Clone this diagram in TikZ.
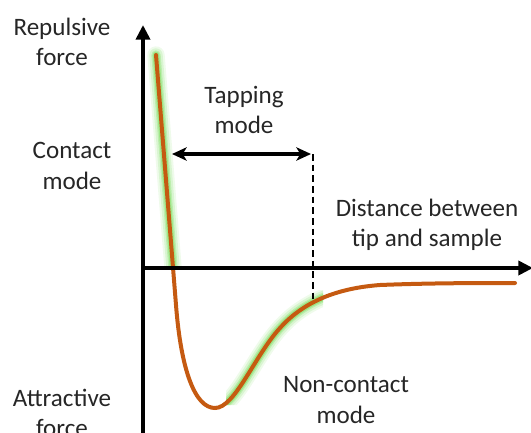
\documentclass[tikz,border=0pt]{standalone}
\usepackage{fontspec}
\setmainfont{Carlito}
\usetikzlibrary{arrows.meta}
\definecolor{curvecol}{RGB}{197,90,17}
\definecolor{glowcol}{RGB}{120,220,90}
\definecolor{txt}{RGB}{38,38,38}
\tikzset{
  lbl/.style={align=center, text=txt, font=\fontsize{18.8pt}{22.8pt}\selectfont, inner sep=0pt},
  axis/.style={line width=3.2pt, -{Triangle[length=11pt,width=10.5pt]}},
  tap/.style={line width=2.6pt, {Stealth[length=11pt,width=10pt,inset=3pt]}-{Stealth[length=11pt,width=10pt,inset=3pt]}},
  guide/.style={line width=1pt, dash pattern=on 5pt off 3pt},
  curvestyle/.style={line width=3pt, curvecol, line cap=round},
  glow/.style={glowcol, line cap=round}
}
\newcommand{\ljcurve}{(156,55) -- (176,305) .. controls (181,370) and (195,408) .. (215,408) .. controls (235,408) and (255,355) .. (280,328) .. controls (305,300) and (340,288) .. (380,285) .. controls (430,283) and (480,283) .. (515,283)}
\begin{document}
\begin{tikzpicture}[x=0.75pt,y=-0.75pt]
\useasboundingbox (0,0) rectangle (531,432);
% coordinates
\coordinate (o) at (143,268);
\coordinate (ytop) at (143,25);
\coordinate (ybot) at (143,440);
\coordinate (xend) at (533,268);
\coordinate (tl) at (172,154);
\coordinate (tr) at (311,154);
\coordinate (dtop) at (313,154);
\coordinate (dbot) at (313,301);
% glow
\begin{scope}
  \clip (140,45) rectangle (200,266) (226,290) rectangle (323,405);
  \foreach \w/\o in {13/0.12,10/0.18,7/0.3,5/0.45}{
    \draw[glow, line width=\w pt, opacity=\o] \ljcurve;
  }
\end{scope}
% curve
\draw[curvestyle] \ljcurve;
% axes
\draw[axis] (ybot) -- (ytop);
\draw[axis] (o) -- (xend);
% dashed
\draw[guide] (dtop) -- (dbot);
% tapping arrow
\draw[tap] (tl) -- (tr);
% labels
\node[lbl] (rep) at (62,42) {Repulsive\\force};
\node[lbl] (con) at (72,166) {Contact\\mode};
\node[lbl] (att) at (62,413) {Attractive\\force};
\node[lbl] (tapm) at (244,110) {Tapping\\mode};
\node[lbl] (dist) at (427,225) {Distance between\\tip and sample};
\node[lbl] (nc) at (346,400) {Non-contact\\mode};
\end{tikzpicture}
\end{document}
